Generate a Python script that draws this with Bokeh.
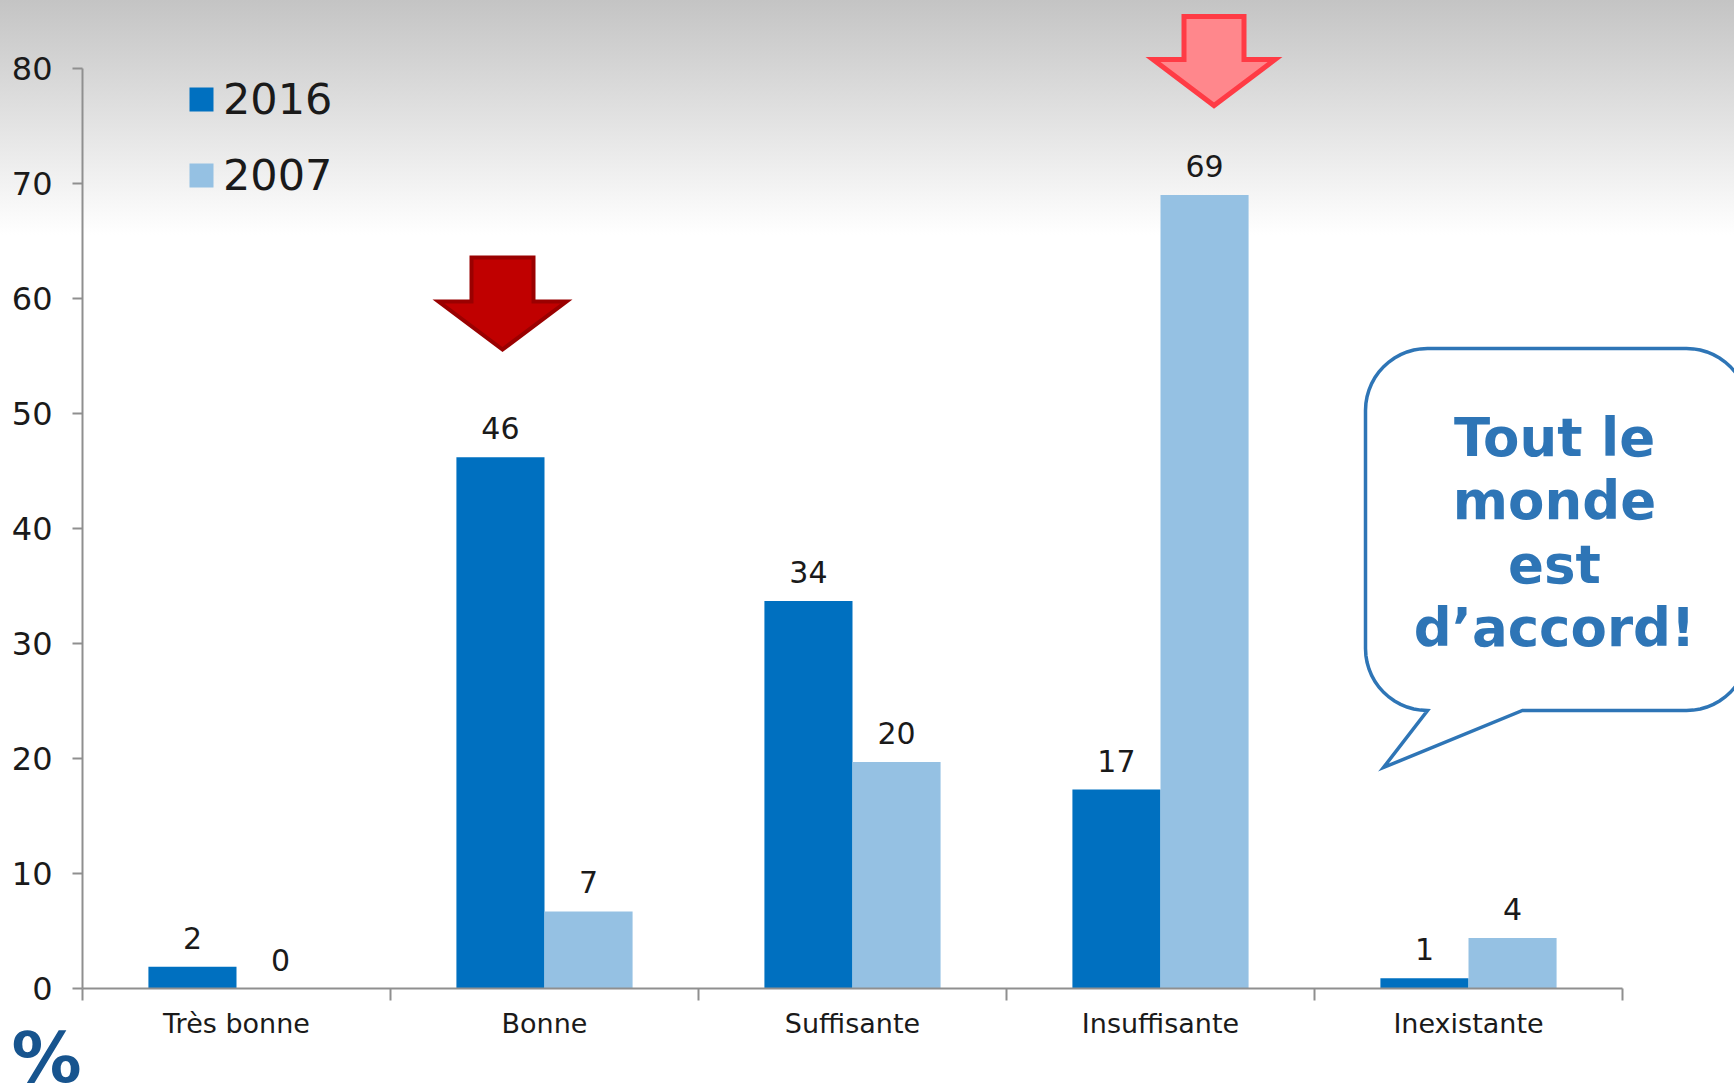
import math
from bokeh.plotting import figure
from bokeh.models import (ColumnDataSource, FixedTicker, LinearAxis, Range1d,
                          Legend, LegendItem)
from bokeh.core.properties import value
from bokeh.embed import file_html
from bokeh.resources import INLINE

# ---------------- data ----------------
categories = ["Très bonne", "Bonne", "Suffisante", "Insuffisante", "Inexistante"]
series_names = ["2016", "2007"]
values_2016 = [1.9, 46.2, 33.7, 17.3, 0.9]
values_2007 = [0.0, 6.7, 19.7, 69.0, 4.4]
y_ticks = [0, 10, 20, 30, 40, 50, 60, 70, 80]
bubble_lines = ["Tout le", "monde", "est", "d\u2019accord!"]
unit_label = "%"

# ---------------- layout constants ----------------
W, H = 1734, 1086
AX_X = 82          # px of the y axis (x = 0)
AX_Y = 988         # px of the x axis (y = 0)
PX_CAT = 308.0     # px per category
PX_UNIT = 11.5     # px per percentage point
BAR_W = 0.286

def X(px):
    return (px - AX_X) / PX_CAT

def Y(py):
    return (AX_Y - py) / PX_UNIT

C2016 = "#0070c0"
C2007 = "#95c1e3"
TXT = "#1a1a1a"
AXC = "#8f8f8f"
FONT = "DejaVu Sans"

p = figure(width=W, height=H, output_backend="svg", toolbar_location=None,
           x_range=Range1d(X(0), X(W)), y_range=Range1d(Y(H), Y(0)),
           min_border_left=0, min_border_right=0, min_border_top=0,
           min_border_bottom=0, x_axis_type=None, y_axis_type=None)
p.xgrid.visible = False
p.ygrid.visible = False
p.outline_line_color = None
p.border_fill_color = None
p.background_fill_color = None
p.styles = {"background": "linear-gradient(180deg, #c4c4c4 0px, #ffffff 235px, #ffffff 100%)"}

# ---------------- axes ----------------
yaxis = LinearAxis(ticker=FixedTicker(ticks=y_ticks, minor_ticks=[]),
                   bounds=(0, 80), fixed_location=0)
yaxis.axis_line_color = AXC
yaxis.axis_line_width = 2
yaxis.major_tick_line_color = AXC
yaxis.major_tick_line_width = 2
yaxis.major_tick_out = 10
yaxis.major_tick_in = 0
yaxis.minor_tick_line_color = None
yaxis.major_label_text_font = FONT
yaxis.major_label_text_font_size = "32px"
yaxis.major_label_text_color = TXT
yaxis.major_label_standoff = 20
p.add_layout(yaxis, "left")

cat_centers = [i + 0.5 for i in range(len(categories))]
boundaries = [float(i) for i in range(len(categories) + 1)]
xaxis = LinearAxis(ticker=FixedTicker(ticks=cat_centers, minor_ticks=boundaries),
                   bounds=(0, len(categories)), fixed_location=0)
xaxis.major_label_overrides = {c: n for c, n in zip(cat_centers, categories)}
xaxis.axis_line_color = AXC
xaxis.axis_line_width = 2
xaxis.major_tick_line_color = None
xaxis.major_tick_out = 0
xaxis.major_tick_in = 0
xaxis.minor_tick_line_color = AXC
xaxis.minor_tick_line_width = 2
xaxis.minor_tick_out = 12
xaxis.minor_tick_in = 0
xaxis.major_label_text_font = FONT
xaxis.major_label_text_font_size = "27px"
xaxis.major_label_text_color = TXT
xaxis.major_label_standoff = 7
p.add_layout(xaxis, "below")

# ---------------- bars ----------------
src = ColumnDataSource(dict(
    x16=[c - BAR_W / 2 for c in cat_centers],
    x07=[c + BAR_W / 2 for c in cat_centers],
    v16=values_2016,
    v07=values_2007,
    l16=[str(round(v)) for v in values_2016],
    l07=[str(round(v)) for v in values_2007],
))
r16 = p.vbar(x="x16", top="v16", width=BAR_W, bottom=0, fill_color=C2016,
             line_color=None, source=src)
r07 = p.vbar(x="x07", top="v07", width=BAR_W, bottom=0, fill_color=C2007,
             line_color=None, source=src)
for xs, ys, ts in (("x16", "v16", "l16"), ("x07", "v07", "l07")):
    p.text(x=xs, y=ys, text=ts, source=src,
           text_align="center", text_baseline="middle", y_offset=-29,
           text_font=value(FONT), text_font_size="30px", text_color=TXT)

# ---------------- legend ----------------
legend = Legend(items=[LegendItem(label=series_names[0], renderers=[r16]),
                       LegendItem(label=series_names[1], renderers=[r07])],
                location=(186, 886), orientation="vertical")
legend.background_fill_alpha = 0
legend.border_line_color = None
legend.label_text_font = FONT
legend.label_text_font_size = "43px"
legend.label_text_color = TXT
legend.glyph_width = 30
legend.glyph_height = 30
legend.label_standoff = 7
legend.spacing = 26
legend.padding = 0
legend.margin = 0
p.add_layout(legend)

# ---------------- arrows ----------------
def arrow(cx, top, shaft_half, shaft_bottom, head_half, tip):
    xs = [cx - shaft_half, cx + shaft_half, cx + shaft_half, cx + head_half,
          cx, cx - head_half, cx - shaft_half]
    ys = [top, top, shaft_bottom, shaft_bottom, tip, shaft_bottom, shaft_bottom]
    return [X(v) for v in xs], [Y(v) for v in ys]

ax1, ay1 = arrow(502, 257, 31, 301, 64, 349)
p.patch(ax1, ay1, fill_color="#c00000", line_color="#9a0000", line_width=4,
        line_join="miter")
ax2, ay2 = arrow(1213.5, 16, 30, 59, 61, 105)
p.patch(ax2, ay2, fill_color="#ff878c", line_color="#ff3b45", line_width=5,
        line_join="miter")

# ---------------- speech bubble ----------------
L, T, R, B, RAD = 1365, 348, 1748, 710, 62
pts = []
def arc(cx, cy, a0, a1, n=14):
    for k in range(n + 1):
        a = math.radians(a0 + (a1 - a0) * k / n)
        pts.append((cx + RAD * math.cos(a), cy + RAD * math.sin(a)))
pts.append((L + RAD, T))
pts.append((R - RAD, T))
arc(R - RAD, T + RAD, -90, 0)
pts.append((R, B - RAD))
arc(R - RAD, B - RAD, 0, 90)
pts.append((1522, B))
pts.append((1383, 767))
pts.append((L + RAD, B))
arc(L + RAD, B - RAD, 90, 180)
pts.append((L, T + RAD))
arc(L + RAD, T + RAD, 180, 270)
p.patch([X(a) for a, b in pts], [Y(b) for a, b in pts], fill_color="white",
        line_color="#2e75b6", line_width=3.5, line_join="miter")

line_centers = [437, 500, 564, 627]
p.text(x=[X(1554)] * 4, y=[Y(b) for b in line_centers], text=bubble_lines,
       text_align="center", text_baseline="middle",
       text_font=value(FONT), text_font_style="bold", text_font_size="53px",
       text_color="#2e75b6")

# ---------------- % label ----------------
p.text(x=[X(11)], y=[Y(1057)], text=[unit_label], text_align="left",
       text_baseline="middle", text_font=value(FONT), text_font_style="bold",
       text_font_size="70px", text_color="#17548e")

open("out.html", "w").write(file_html(p, INLINE))
